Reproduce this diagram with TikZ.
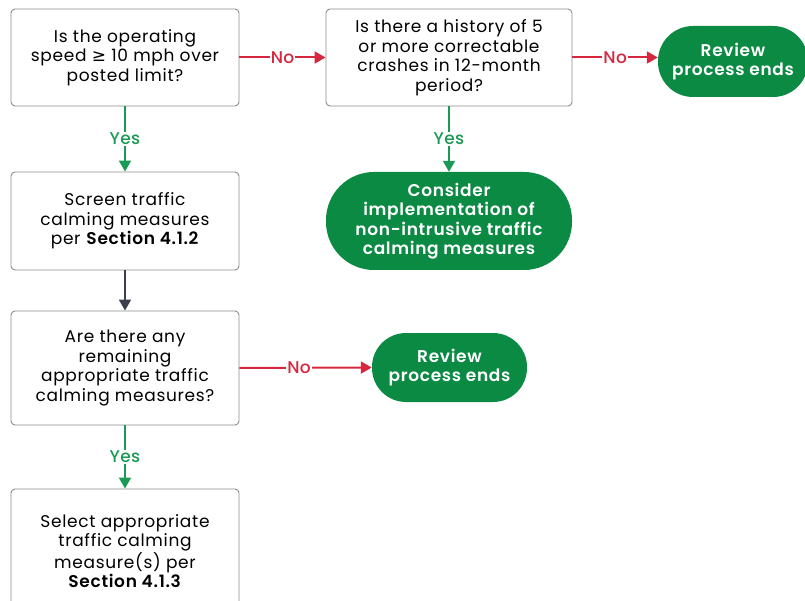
\documentclass[tikz,border=0pt]{standalone}
\usepackage{fontspec}
\setmainfont{Poppins}[LetterSpace=4,BoldFont=Poppins SemiBold]
\newfontfamily\symfont{DejaVu Sans}
\newfontfamily\lblfont{Poppins Medium}[LetterSpace=2]
\usetikzlibrary{arrows.meta}
\definecolor{termgreen}{HTML}{0B8A43}
\definecolor{yesgreen}{HTML}{1A9A55}
\definecolor{nored}{HTML}{D7263D}
\definecolor{boxgray}{HTML}{8C8C8C}
\definecolor{flowgray}{HTML}{3B404A}
\tikzset{arr/.style={-{Triangle[length=11pt,width=12pt]},line width=2pt}}

\begin{document}
\begin{tikzpicture}[x=1pt,y=-1pt]
  \tikzstyle q=[draw=boxgray,line width=0.9pt,rounded corners=4pt,fill=white,align=center,inner sep=0pt,font=\fontsize{17}{19.5}\selectfont];
  \tikzstyle term=[fill=termgreen,text=white,align=center,inner sep=0pt,font=\fontsize{17}{19.5}\selectfont\bfseries];
  \tikzstyle lbl=[fill=white,inner sep=1pt,font=\fontsize{17}{18}\selectfont\lblfont];
  \useasboundingbox (0,0) rectangle (805,601);

  % questions and steps
  \node[q,minimum width=228pt,minimum height=97pt] (speed) at (125,57.5)
    {Is the operating\\speed {\symfont ≥} 10 mph over\\posted limit?};
  \node[q,minimum width=246pt,minimum height=97pt] (history) at (449,57.5)
    {Is there a history of 5\\or more correctable\\crashes in 12-month\\period?};
  \node[q,minimum width=228pt,minimum height=98pt] (screen) at (125,221)
    {Screen traffic\\calming measures\\per \textbf{Section 4.1.2}};
  \node[q,minimum width=228pt,minimum height=114pt] (remain) at (125,368)
    {Are there any\\remaining\\appropriate traffic\\calming measures?};
  \node[q,minimum width=228pt,minimum height=124pt] (select) at (125,551)
    {Select appropriate\\traffic calming\\measure(s) per\\\textbf{Section 4.1.3}};

  % ends
  \node[term,minimum width=150pt,minimum height=71pt,rounded corners=35pt] (end1) at (733,61.5)
    {Review\\process ends};
  \node[term,minimum width=246pt,minimum height=98pt,rounded corners=48pt] (consider) at (449,221)
    {Consider\\implementation of\\non-intrusive traffic\\calming measures};
  \node[term,minimum width=155pt,minimum height=69pt,rounded corners=34pt] (end2) at (449.5,367.5)
    {Review\\process ends};

  % connectors
  \draw[arr,nored] (speed.east) -- node[lbl,text=nored] {No} (history.west);
  \draw[arr,nored] (history.east) -- node[lbl,text=nored] {No} (history.east -| end1.west);
  \draw[arr,yesgreen] (speed.south) -- node[lbl,text=yesgreen] {Yes} (screen.north);
  \draw[arr,yesgreen] (history.south) -- node[lbl,text=yesgreen] {Yes} (consider.north);
  \draw[arr,flowgray] (screen.south) -- (remain.north);
  \draw[arr,nored] (remain.east) -- node[lbl,text=nored,pos=0.45] {No} (end2.west);
  \draw[arr,yesgreen] (remain.south) -- node[lbl,text=yesgreen] {Yes} (select.north);
\end{tikzpicture}
\end{document}
